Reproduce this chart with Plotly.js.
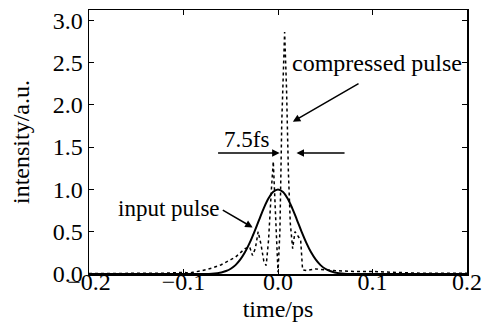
<!DOCTYPE html>
<html>
<head>
<meta charset="utf-8">
<script src="https://cdn.plot.ly/plotly-3.0.1.min.js"></script>
<style>html,body{margin:0;padding:0;background:#fff;}#chart{width:483px;height:322px;}</style>
</head>
<body>
<div id="chart"></div>
<script>
// input pulse (solid)
var inputTime = [-0.2,-0.15,-0.1,-0.08,-0.07,-0.06,-0.055,-0.05,-0.045,-0.04,-0.035,-0.03,-0.025,-0.02,-0.015,-0.01,-0.005,0,0.005,0.01,0.015,0.02,0.025,0.03,0.035,0.04,0.045,0.05,0.055,0.06,0.07,0.08,0.1,0.15,0.2];
var inputIntensity = [0,0,0,0.001,0.004,0.018,0.035,0.062,0.105,0.169,0.256,0.368,0.499,0.641,0.779,0.895,0.973,1.0,0.973,0.895,0.779,0.641,0.499,0.368,0.256,0.169,0.105,0.062,0.035,0.018,0.004,0.001,0,0,0];

// compressed pulse (dotted)
var compTime = [-0.2,-0.17,-0.15,-0.12,-0.1,-0.095,-0.09,-0.08,-0.07,-0.06,-0.05,-0.045,-0.04,-0.035,-0.03,-0.027,-0.024,-0.021,-0.018,-0.015,-0.0125,-0.01,-0.007,-0.005,-0.003,-0.001,0.0,0.002,0.004,0.007,0.009,0.011,0.013,0.0155,0.018,0.021,0.024,0.026,0.03,0.04,0.05,0.06,0.08,0.1,0.12,0.15,0.2];
var compIntensity = [0.005,0.005,0.008,0.01,0.02,0.01,0.02,0.04,0.07,0.11,0.17,0.2,0.25,0.3,0.32,0.22,0.3,0.5,0.35,0.15,0.1,0.4,1.0,1.33,0.8,0.2,0.02,0.5,1.8,2.86,2.2,1.2,0.6,0.3,0.5,0.45,0.4,0.05,0.04,0.06,0.05,0.04,0.03,0.03,0.02,0.01,0.01];

var xTicks = [-0.2,-0.1,0.0,0.1,0.2];
var xTickText = ['\u22120.2','\u22120.1','0.0','0.1','0.2'];
var yTicks = [0,0.5,1.0,1.5,2.0,2.5,3.0];
var yTickText = ['0.0','0.5','1.0','1.5','2.0','2.5','3.0'];

var F = 'Liberation Serif';
var TICK = 24;
var TXT = 23;

var traces = [
  {x: compTime, y: compIntensity, mode: 'lines', line: {color: '#000', width: 1.5, dash: 'dot'}, hoverinfo: 'skip'},
  {x: inputTime, y: inputIntensity, mode: 'lines', line: {color: '#000', width: 2, shape: 'spline'}, hoverinfo: 'skip'},
  {x: [], y: [], xaxis: 'x2', yaxis: 'y', mode: 'lines', hoverinfo: 'skip'}
];

var layout = {
  width: 483, height: 322,
  margin: {l: 89, r: 16, t: 10, b: 48},
  paper_bgcolor: '#fff', plot_bgcolor: '#fff',
  showlegend: false,
  font: {family: F, color: '#000', size: TXT},
  xaxis: {
    range: [-0.2, 0.2], tickvals: xTicks, ticktext: xTickText,
    ticks: 'inside', ticklen: 5, tickwidth: 1, tickcolor: '#000',
    showline: true, linecolor: '#000', linewidth: 1.5, mirror: 'ticks',
    showgrid: false, zeroline: false, showticklabels: false
  },
  xaxis2: {
    overlaying: 'x', matches: 'x', anchor: 'free', position: 0.035, side: 'bottom',
    range: [-0.2, 0.2], tickvals: xTicks, ticktext: xTickText,
    ticks: '', showline: false, showgrid: false, zeroline: false,
    tickfont: {family: F, size: TICK, color: '#000'},
    title: {text: 'time/ps', font: {family: F, size: 24, color: '#000'}, standoff: 6}
  },
  yaxis: {
    range: [0, 3.12], tickvals: yTicks, ticktext: yTickText,
    ticks: 'inside', ticklen: 5, tickwidth: 1, tickcolor: '#000',
    showline: true, linecolor: '#000', linewidth: 1.5, mirror: 'ticks',
    showgrid: false, zeroline: false,
    tickfont: {family: F, size: TICK, color: '#000'},
    title: {text: 'intensity/a.u.', font: {family: F, size: 24, color: '#000'}, standoff: 16}
  },
  annotations: [
    {x: 0.0157, y: 1.80, xref: 'x', yref: 'y', ax: 0.0868, ay: 2.26, axref: 'x', ayref: 'y',
     text: '', showarrow: true, arrowhead: 2, arrowsize: 1, arrowwidth: 1.5, arrowcolor: '#000'},
    {x: 0.1045, y: 2.49, xref: 'x', yref: 'y', text: 'compressed pulse', showarrow: false,
     font: {family: F, size: 24, color: '#000'}},
    {x: -0.0268, y: 0.55, xref: 'x', yref: 'y', ax: -0.060, ay: 0.765, axref: 'x', ayref: 'y',
     text: '', showarrow: true, arrowhead: 2, arrowsize: 1, arrowwidth: 1.5, arrowcolor: '#000'},
    {x: -0.1157, y: 0.78, xref: 'x', yref: 'y', text: 'input pulse', showarrow: false,
     font: {family: F, size: TXT, color: '#000'}},
    {x: -0.033, y: 1.59, xref: 'x', yref: 'y', text: '7.5fs', showarrow: false,
     font: {family: F, size: TXT, color: '#000'}},
    {x: 0.0017, y: 1.43, xref: 'x', yref: 'y', ax: -0.065, ay: 1.43, axref: 'x', ayref: 'y',
     text: '', showarrow: true, arrowhead: 2, arrowsize: 1, arrowwidth: 1.5, arrowcolor: '#000'},
    {x: 0.0196, y: 1.43, xref: 'x', yref: 'y', ax: 0.072, ay: 1.43, axref: 'x', ayref: 'y',
     text: '', showarrow: true, arrowhead: 2, arrowsize: 1, arrowwidth: 1.5, arrowcolor: '#000'}
  ]
};

Plotly.newPlot('chart', traces, layout, {displayModeBar: false, staticPlot: true});
</script>
</body>
</html>
